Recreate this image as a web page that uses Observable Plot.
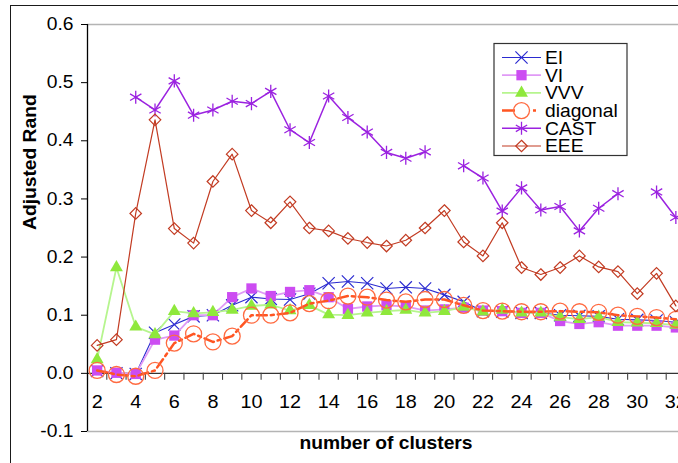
<!DOCTYPE html>
<html>
<head>
<meta charset="utf-8">
<script src="https://cdn.jsdelivr.net/npm/d3@7"></script>
<script src="https://cdn.jsdelivr.net/npm/@observablehq/plot@0.6"></script>
<style>
html, body { margin: 0; padding: 0; background: #fff; overflow: hidden; }
#wrap { position: relative; width: 678px; height: 463px; overflow: hidden; }
#frame { position: absolute; left: 10px; top: 5px; width: 900px; height: 900px; border: 1.6px solid #1a1a1a; pointer-events: none; }
</style>
</head>
<body>
<div id="wrap"><div id="frame"></div></div>
<script>
// ---- data ----
const clusters = [2,3,4,5,6,7,8,9,10,11,12,13,14,15,16,17,18,19,20,21,22,23,24,25,26,27,28,29,30,31,32];
const labeledClusters = [2,4,6,8,10,12,14,16,18,20,22,24,26,28,30,32];
const yTicks = [-0.1, 0, 0.1, 0.2, 0.3, 0.4, 0.5, 0.6];
const yTickLabels = ["-0.1", "0.0", "0.1", "0.2", "0.3", "0.4", "0.5", "0.6"];
const seriesNames = ["EI", "VI", "VVV", "diagonal", "CAST", "EEE"];

const EI = [0.004, 0.000, -0.001, 0.070, 0.084, 0.098, 0.100, 0.117, 0.131, 0.128, 0.127, 0.137, 0.155, 0.158, 0.155, 0.146, 0.148, 0.146, 0.135, 0.123, 0.107, 0.106, 0.104, 0.104, 0.100, 0.099, 0.098, 0.093, 0.092, 0.091, 0.088];
const VI = [0.005, 0.001, -0.001, 0.058, 0.065, 0.100, 0.100, 0.131, 0.146, 0.133, 0.140, 0.143, 0.131, 0.111, 0.115, 0.117, 0.115, 0.108, 0.110, 0.113, 0.108, 0.107, 0.104, 0.104, 0.090, 0.085, 0.088, 0.082, 0.082, 0.082, 0.079];
const VVV = [0.024, 0.182, 0.080, 0.067, 0.107, 0.103, 0.105, 0.109, 0.116, 0.118, 0.108, 0.117, 0.101, 0.100, 0.104, 0.107, 0.109, 0.104, 0.107, 0.114, 0.106, 0.109, 0.104, 0.104, 0.097, 0.093, 0.097, 0.088, 0.087, 0.086, 0.083];
const diagonal = [0.005, -0.002, -0.005, 0.005, 0.052, 0.068, 0.054, 0.064, 0.100, 0.100, 0.104, 0.120, 0.125, 0.133, 0.131, 0.126, 0.123, 0.127, 0.127, 0.117, 0.108, 0.107, 0.106, 0.106, 0.107, 0.106, 0.105, 0.100, 0.098, 0.096, 0.093];
const CAST = [null, null, 0.475, 0.453, 0.503, 0.444, 0.453, 0.468, 0.464, 0.485, 0.419, 0.397, 0.477, 0.440, 0.415, 0.380, 0.370, 0.381, null, 0.357, 0.336, 0.279, 0.319, 0.281, 0.287, 0.245, 0.284, 0.309, null, 0.312, 0.268];
const EEE = [0.048, 0.058, 0.275, 0.436, 0.249, 0.224, 0.330, 0.377, 0.280, 0.259, 0.295, 0.250, 0.245, 0.232, 0.225, 0.219, 0.229, 0.250, 0.280, 0.226, 0.202, 0.259, 0.182, 0.170, 0.182, 0.202, 0.183, 0.175, 0.137, 0.172, 0.116];
const seriesValues = [EI, VI, VVV, diagonal, CAST, EEE];

const xDomain = [1.5, 32.5];
const yDomain = [-0.1, 0.6];

// ---- styles ----
const styles = {
  EI:       {line: "#2b2bd0", lw: 1.1, symbol: "times",    r: 5.6, fill: "none",    stroke: "#2b2bd0", sw: 1.2},
  VI:       {line: "#e09af6", lw: 1.8, symbol: "square",   r: 5.8, fill: "#cc4cf2", stroke: "none",    sw: 0},
  VVV:      {line: "#b6f58e", lw: 1.8, symbol: "triangle", r: 4.8, fill: "#8fe83c", stroke: "none",    sw: 0},
  diagonal: {line: "#ff5522", lw: 2.5, dash: "10,4,3,4", symbol: "circle", r: 8, fill: "none", stroke: "#ff6a40", sw: 1.3},
  CAST:     {line: "#9b22e0", lw: 1.5, symbol: "asterisk", r: 6.2, fill: "none",    stroke: "#9b22e0", sw: 1.3},
  EEE:      {line: "#c23b22", lw: 1.2, symbol: "diamond2", r: 5.2, fill: "none",    stroke: "#c23b22", sw: 1.2}
};

const rows = seriesNames.flatMap((s, i) => clusters.map((k, j) => ({k, s, v: seriesValues[i][j]})));
const boundaries = [xDomain[0], ...clusters.map(k => k + 0.5)];

const seriesMarks = seriesNames.flatMap(s => {
  const st = styles[s];
  const data = rows.filter(d => d.s === s);
  return [
    Plot.line(data, {x: "k", y: "v", stroke: st.line, strokeWidth: st.lw, strokeDasharray: st.dash || null}),
    Plot.dot(data.filter(d => d.v != null), {x: "k", y: "v", symbol: st.symbol, r: st.r, fill: st.fill, stroke: st.stroke, strokeWidth: st.sw})
  ];
});

const chart = Plot.plot({
  width: 678,
  height: 463,
  marginTop: 24,
  marginBottom: 32,
  marginLeft: 87,
  marginRight: 0,
  x: {type: "linear", domain: xDomain, range: [87, 685], axis: null},
  y: {domain: yDomain, range: [431, 24]},
  style: {fontFamily: "'Liberation Sans', Arial, sans-serif", background: "transparent", color: "#000"},
  marks: [
    Plot.ruleY([yDomain[1], yDomain[0]], {stroke: "#b4b4b4", strokeWidth: 1.5}),
    Plot.ruleY([0], {stroke: "#333", strokeWidth: 1.2}),
    Plot.ruleX(boundaries, {x: d => d, y1: d => 0, y2: d => 0, insetBottom: -7, stroke: "#444", strokeWidth: 1.1}),
    Plot.ruleX([xDomain[0]], {y1: yDomain[0], y2: yDomain[1], stroke: "#000", strokeWidth: 1.3}),
    Plot.axisY(yTicks, {tickFormat: d => yTickLabels[yTicks.indexOf(d)], tickSize: 6, tickPadding: 8, fontSize: 17.5, label: null, stroke: "#000"}),
    Plot.text(labeledClusters, {x: d => d, y: d => 0, dy: 29, text: d => String(d), fontSize: 18, fill: "#000"}),
    Plot.text(["Adjusted Rand"], {frameAnchor: "left", dx: -57, dy: 2, rotate: -90, fontSize: 17.5, fontWeight: "bold", fill: "#000"}),
    Plot.text(["number of clusters"], {frameAnchor: "bottom", dx: 3, dy: 17, fontSize: 17.5, fontWeight: "bold", fill: "#000"}),
    ...seriesMarks
  ]
});

// widen glyphs slightly like the original rendering
chart.querySelectorAll("text").forEach(t => {
  const tr = t.getAttribute("transform");
  if (tr) t.setAttribute("transform", tr + " scale(1.1,1)");
});

// ---- legend ----
const svg = d3.select(chart);
const lg = svg.append("g");
const symMap = {times: d3.symbolTimes, square: d3.symbolSquare, triangle: d3.symbolTriangle, circle: d3.symbolCircle, asterisk: d3.symbolAsterisk, diamond2: d3.symbolDiamond2};
lg.append("rect").attr("x", 494).attr("y", 43.5).attr("width", 133).attr("height", 112)
  .attr("fill", "#fff").attr("stroke", "#333").attr("stroke-width", 1.2);
seriesNames.forEach((s, i) => {
  const st = styles[s];
  const cy = 57.5 + i * 17.7;
  lg.append("line").attr("x1", 502).attr("x2", 541).attr("y1", cy).attr("y2", cy)
    .attr("stroke", st.line).attr("stroke-width", st.lw).attr("stroke-dasharray", st.dash ? "13,18,3,20" : null);
  lg.append("path").attr("transform", `translate(521.5,${cy})`)
    .attr("d", d3.symbol(symMap[st.symbol], Math.PI * st.r * st.r)())
    .attr("fill", st.fill).attr("stroke", st.stroke).attr("stroke-width", st.sw);
  lg.append("text").attr("transform", `translate(545,${cy + 6.3}) scale(1.1,1)`)
    .attr("text-anchor", "start")
    .attr("font-size", 17.5).attr("font-family", "'Liberation Sans', Arial, sans-serif").attr("fill", "#000").text(s);
});

document.getElementById("wrap").insertBefore(chart, document.getElementById("frame"));
</script>
</body>
</html>
